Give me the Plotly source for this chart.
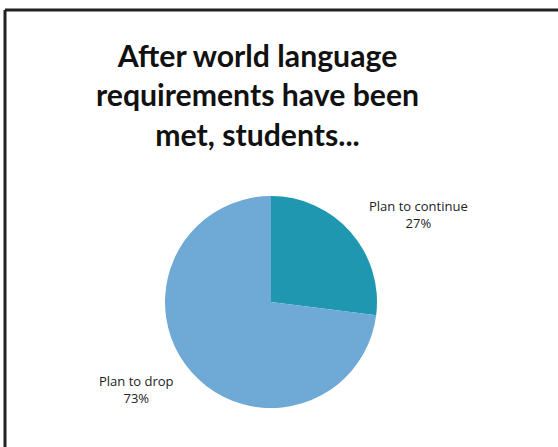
import plotly.graph_objects as go

labels = ["Plan to continue", "Plan to drop"]
values = [27, 73]
colors = ["#2097b1", "#6fa9d5"]
title_lines = ["After world language", "requirements have been", "met, students..."]

W, H = 558, 447

fig = go.Figure()
fig.add_trace(go.Pie(
    labels=labels, values=values, sort=False, direction="clockwise", rotation=0,
    marker=dict(colors=colors, line=dict(width=0)),
    textinfo="none", hoverinfo="label+percent", showlegend=False,
    domain=dict(x=[165 / W, 377 / W], y=[1 - 408 / H, 1 - 196 / H]),
))

label_pos = [(418, 214.5), (136, 389.5)]
for lab, val, (px, py) in zip(labels, values, label_pos):
    fig.add_annotation(
        x=px / W, y=1 - py / H, xref="paper", yref="paper",
        xanchor="center", yanchor="middle",
        text=f"{lab}<br>{val}%", showarrow=False, align="center",
        font=dict(family="Open Sans", size=13, color="#222222"),
    )

fig.add_annotation(
    x=257 / W, y=1 - 94 / H, xref="paper", yref="paper",
    xanchor="center", yanchor="middle", showarrow=False, align="center",
    text="<br>".join(title_lines),
    font=dict(family="Lato", size=30.2, color="#111111", weight="bold"),
)

fig.update_layout(
    width=W, height=H,
    margin=dict(l=0, r=0, t=0, b=0),
    paper_bgcolor="white", plot_bgcolor="white",
    shapes=[
        dict(type="line", xref="paper", yref="paper", x0=5 / W, x1=1.0,
             y0=1 - 10 / H, y1=1 - 10 / H, line=dict(color="#222222", width=3)),
        dict(type="line", xref="paper", yref="paper", x0=5 / W, x1=5 / W,
             y0=1 - 10 / H, y1=0, line=dict(color="#222222", width=3)),
    ],
)

fig.write_html("out.html", config={"displayModeBar": False},
               post_script="document.body.style.margin='0';")
